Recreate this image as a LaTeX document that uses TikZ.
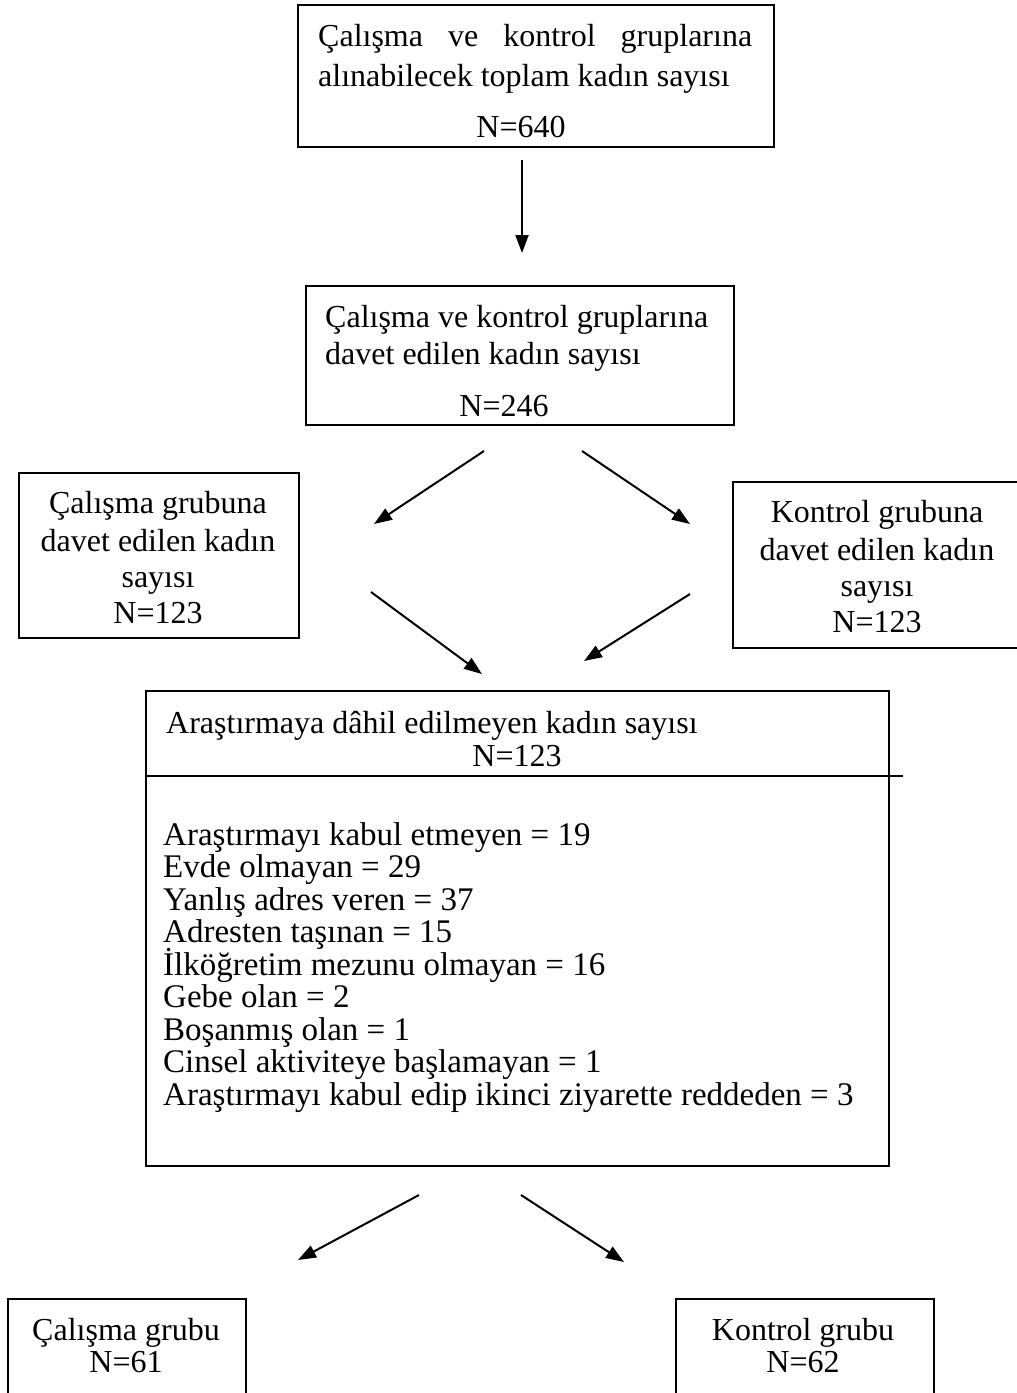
\documentclass[tikz,border=0pt]{standalone}
\usepackage{fontspec}
\setmainfont{Liberation Serif}
\usetikzlibrary{arrows.meta}
\begin{document}
\begin{tikzpicture}[x=1pt,y=-1pt,
  box/.style={draw, line width=1.8pt, inner sep=0pt, anchor=north west},
  txt/.style={inner sep=0pt, font=\fontsize{32}{30}\selectfont},
  listtxt/.style={inner sep=0pt, anchor=base west, font=\fontsize{33}{31}\selectfont},
  arr/.style={line width=2pt, -{Triangle[length=18pt,width=13pt]}}]
\useasboundingbox[fill=white] (0,0) rectangle (1017,1393);
\clip (0,0) rectangle (1017,1393);

% boxes
\node[box, minimum width=476pt, minimum height=142pt] (b1) at (297,4) {};
\node[box, minimum width=428pt, minimum height=139pt] (b2) at (305,285) {};
\node[box, minimum width=280pt, minimum height=165pt] (b3) at (18,472) {};
\node[box, minimum width=300pt, minimum height=166pt] (b4) at (732,481) {};
\node[box, minimum width=743pt, minimum height=475pt] (b5) at (145,690) {};
\node[box, minimum width=238pt, minimum height=130pt] (b6) at (7,1298) {};
\node[box, minimum width=258pt, minimum height=130pt] (b7) at (675,1298) {};

% divider in the big box
\coordinate (d1) at (145,776);
\coordinate (d2) at (903,776);
\draw[line width=1.8pt] (d1) -- (d2);

% texts
\node[txt, anchor=base west] (t1a) at (318,46) {\makebox[434pt][s]{Çalışma ve kontrol gruplarına}};
\node[txt, anchor=base west] (t1b) at (318,86) {alınabilecek toplam kadın sayısı};
\node[txt, anchor=base] (t1c) at (521,137) {N=640};

\node[txt, anchor=base west] (t2a) at (325,327) {Çalışma ve kontrol gruplarına};
\node[txt, anchor=base west] (t2b) at (325,364) {davet edilen kadın sayısı};
\node[txt, anchor=base] (t2c) at (504,416) {N=246};

\node[txt, anchor=base] (t3a) at (158,513) {Çalışma grubuna};
\node[txt, anchor=base] (t3b) at (158,551) {davet edilen kadın};
\node[txt, anchor=base] (t3c) at (158,587) {sayısı};
\node[txt, anchor=base] (t3d) at (158,623) {N=123};

\node[txt, anchor=base] (t4a) at (877,522) {Kontrol grubuna};
\node[txt, anchor=base] (t4b) at (877,560) {davet edilen kadın};
\node[txt, anchor=base] (t4c) at (877,596) {sayısı};
\node[txt, anchor=base] (t4d) at (877,632) {N=123};

\node[txt, anchor=base west] (t5a) at (166,733) {Araştırmaya dâhil edilmeyen kadın sayısı};
\node[txt, anchor=base] (t5b) at (517,766) {N=123};

\foreach \s [count=\i from 0] in {
  Araştırmayı kabul etmeyen = 19,
  Evde olmayan = 29,
  Yanlış adres veren = 37,
  Adresten taşınan = 15,
  İlköğretim mezunu olmayan = 16,
  Gebe olan = 2,
  Boşanmış olan = 1,
  Cinsel aktiviteye başlamayan = 1,
  Araştırmayı kabul edip ikinci ziyarette reddeden = 3}
  \node[listtxt] (l\i) at (163,845+32.5*\i) {\s};

\node[txt, anchor=base] (t6a) at (126,1340) {Çalışma grubu};
\node[txt, anchor=base] (t6b) at (126,1372) {N=61};
\node[txt, anchor=base] (t7a) at (803,1340) {Kontrol grubu};
\node[txt, anchor=base] (t7b) at (803,1372) {N=62};

% arrows
\coordinate (a1s) at (522,160);  \coordinate (a1e) at (522,253);
\coordinate (a2s) at (484,451);  \coordinate (a2e) at (374,524);
\coordinate (a3s) at (582,451);  \coordinate (a3e) at (690,524);
\coordinate (a4s) at (371,592);  \coordinate (a4e) at (482,674);
\coordinate (a5s) at (690,594);  \coordinate (a5e) at (584,661);
\coordinate (a6s) at (419,1195); \coordinate (a6e) at (298,1260);
\coordinate (a7s) at (521,1195); \coordinate (a7e) at (624,1262);
\foreach \k in {1,...,7} \draw[arr] (a\k s) -- (a\k e);
\end{tikzpicture}
\end{document}
